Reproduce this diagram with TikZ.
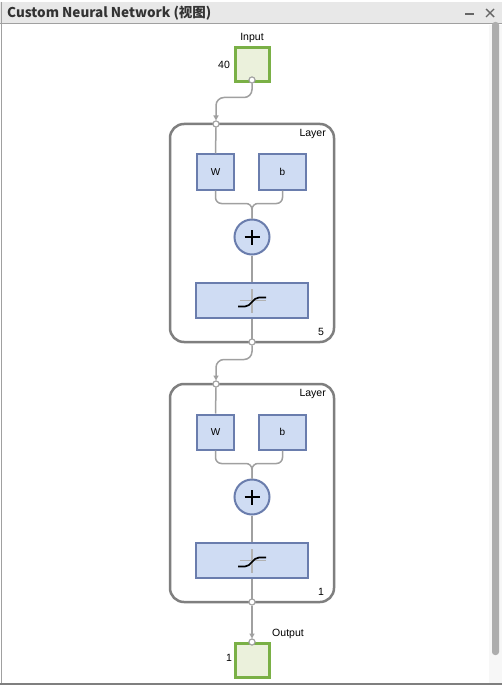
\documentclass[tikz,border=0pt]{standalone}
\usepackage{fontspec}
\setmainfont{Liberation Sans}
\newfontfamily\cjk{Noto Sans CJK SC}
\usetikzlibrary{arrows.meta}
\definecolor{iogreen}{HTML}{7AB046}
\definecolor{iofill}{HTML}{EBF1DC}
\definecolor{bfill}{HTML}{CFDCF3}
\definecolor{bdraw}{HTML}{6A7DAD}
\definecolor{lgray}{HTML}{7F7F7F}
\definecolor{cgray}{HTML}{A0A0A0}
\definecolor{titlebg}{HTML}{E8E8E8}
\tikzset{
  iobox/.style={draw=iogreen, fill=iofill, line width=3pt, minimum size=34pt, inner sep=0pt},
  layerbox/.style={draw=lgray, line width=2.5pt, rounded corners=14pt, inner sep=0pt},
  blk/.style={draw=bdraw, fill=bfill, line width=2pt, inner sep=0pt, minimum height=35pt},
  sumc/.style={circle, draw=bdraw, fill=bfill, line width=2pt, minimum size=35pt, inner sep=0pt},
  port/.style={circle, draw=cgray, fill=white, line width=1pt, minimum size=6pt, inner sep=0pt},
  conn/.style={draw=cgray, line width=1.5pt},
  arr/.style={-{Triangle[length=5pt,width=5pt]}},
  lbl/.style={font=\fontsize{10.5}{12}\selectfont, inner sep=0pt},
}
\begin{document}
\begin{tikzpicture}[x=1pt,y=-1pt]
\useasboundingbox (0,0) rectangle (502,687);
% window
\fill[white] (0,0) rectangle (502,687);
\fill[titlebg] (0,2) rectangle (502,24);
\draw[cgray, line width=1pt] (0,24) -- (502,24);
\draw[cgray, line width=1pt] (1,2) -- (1,684);
\draw[lgray, line width=2pt] (0,684) -- (502,684);
\fill[black!3] (489,25) rectangle (502,683);
\fill[black!32, rounded corners=3pt] (492,22) rectangle (499,655);
\node[anchor=west, inner sep=0pt, text=black!80] (title) at (7,13) {\cjk\bfseries\fontsize{13.5}{15}\selectfont Custom Neural Network (视图)};
\draw[black!60, line width=1.2pt] (465,14) -- (474,14);
\draw[black!60, line width=1.4pt] (486,9) -- (494,17) (486,17) -- (494,9);

% input
\node[iobox] (in) at (252,65) {};
\node[lbl] (inlbl) at (252,38) {Input};
\node[lbl] (insz) at (224,65) {40};

% layer 1
\node[layerbox, minimum width=164pt, minimum height=218pt] (L1) at (252,233) {};
\node[lbl, anchor=east] (L1lbl) at (326,134) {Layer};
\node[lbl] (L1n) at (321,332) {5};
\node[blk, minimum width=37pt] (W1) at (215.5,172) {\fontsize{10}{11}\selectfont W};
\node[blk, minimum width=47pt] (b1) at (282.5,172) {\fontsize{10}{11}\selectfont b};
\node[sumc] (p1) at (252,237) {};
\node[blk, minimum width=112pt] (f1) at (252,300.5) {};

% layer 2
\node[layerbox, minimum width=164pt, minimum height=218pt] (L2) at (252,493) {};
\node[lbl, anchor=east] (L2lbl) at (326,394) {Layer};
\node[lbl] (L2n) at (321,592) {1};
\node[blk, minimum width=37pt] (W2) at (215.5,432) {\fontsize{10}{11}\selectfont W};
\node[blk, minimum width=47pt] (b2) at (282.5,432) {\fontsize{10}{11}\selectfont b};
\node[sumc] (p2) at (252,497) {};
\node[blk, minimum width=112pt] (f2) at (252,560.5) {};

% output
\node[iobox] (out) at (252,660) {};
\node[lbl] (outlbl) at (288,634) {Output};
\node[lbl] (outsz) at (229,658) {1};

% ports
\node[port] (inport) at (252,80) {};
\node[port] (L1in) at (216,124) {};
\node[port] (L1out) at (252,342) {};
\node[port] (L2in) at (216,384) {};
\node[port] (L2out) at (252,602) {};
\node[port] (outport) at (252,642) {};

% connectors
\draw[conn, arr, rounded corners=8pt] (inport.south) -- ++(0,14) -| (L1in.north);
\draw[conn, arr, rounded corners=8pt] (L1out.south) -- ++(0,14) -| (L2in.north);
\draw[conn, arr] (L2out.south) -- (outport.north);

\foreach \k in {1,2}{
  \draw[conn] (L\k in.south) -- (W\k.north);
  \draw[conn, rounded corners=6pt] (W\k.south) -- ++(0,13) -| (p\k.north);
  \draw[conn, rounded corners=6pt] (b\k.south) -- ++(0,13) -| (p\k.north);
  \draw[conn] (p\k.south) -- (f\k.north);
  \draw[conn] (f\k.south) -- (L\k out.north);
  % plus sign
  \draw[black, line width=1.7pt] ([xshift=-7.5pt]p\k.center) -- ([xshift=7.5pt]p\k.center)
     ([yshift=-7.5pt]p\k.center) -- ([yshift=7.5pt]p\k.center);
  % transfer symbol
  \draw[black!30, line width=1.5pt] ([yshift=-12pt]f\k.center) -- ([yshift=12pt]f\k.center)
     ([xshift=-12pt]f\k.center) -- ([xshift=14pt]f\k.center);
  \draw[black, line width=1.7pt] ([xshift=-14pt,yshift=-6pt]f\k.center) -- ([xshift=-7pt,yshift=-6pt]f\k.center)
     .. controls ([xshift=-1pt,yshift=-6pt]f\k.center) and ([xshift=1pt,yshift=3pt]f\k.center) .. ([xshift=7pt,yshift=3pt]f\k.center)
     -- ([xshift=14pt,yshift=3pt]f\k.center);
}
% redraw ports on top
\foreach \p in {inport,L1in,L1out,L2in,L2out,outport}{
  \node[port] at (\p) {};
}
\end{tikzpicture}
\end{document}
